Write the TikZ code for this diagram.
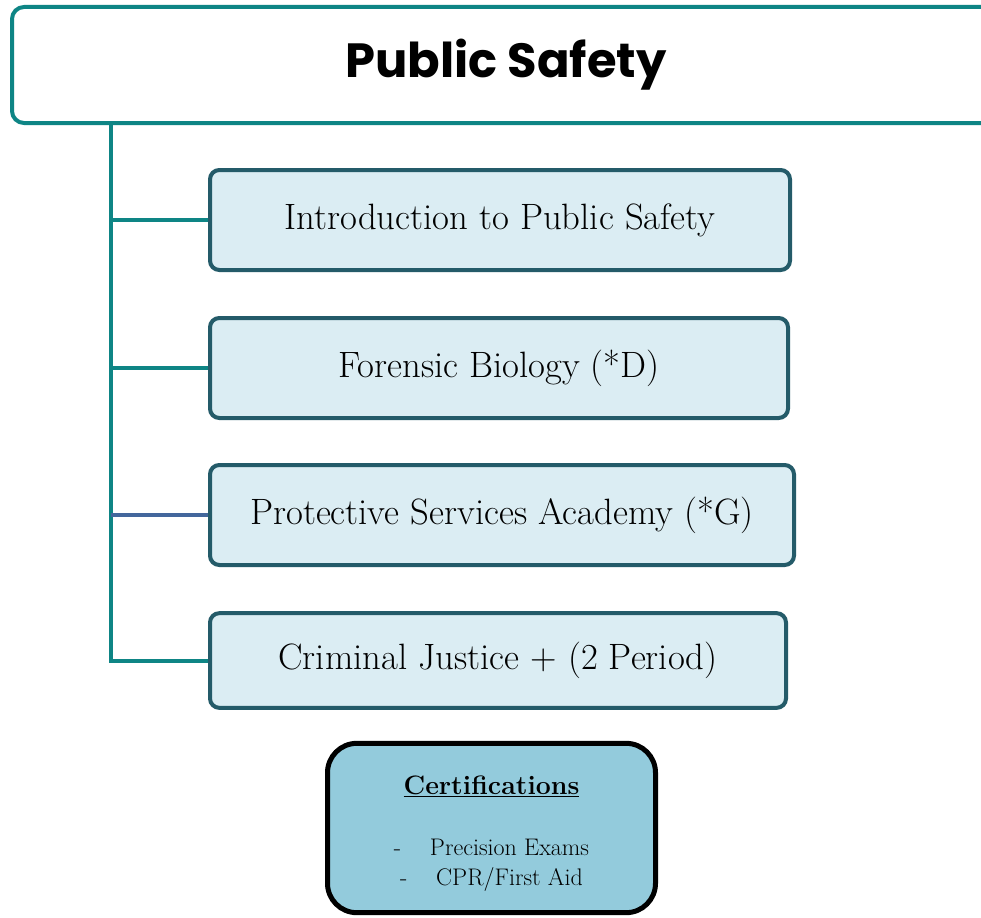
\documentclass[tikz,border=0pt]{standalone}
\usepackage{fontspec}
\usepackage{tikz}
\usepackage{xcolor}
\usetikzlibrary{positioning}
\newfontfamily\titlefont{Poppins}
\definecolor{tealline}{HTML}{0E8585}
\definecolor{boxline}{HTML}{245B69}
\definecolor{boxfill}{HTML}{DBEDF3}
\definecolor{certfill}{HTML}{93CBDC}
\definecolor{blueline}{HTML}{43679C}
\tikzset{headbox/.style={draw=tealline, line width=3pt, rounded corners=9pt, fill=white, minimum width=741pt, minimum height=87pt, inner sep=0pt, font=\titlefont\bfseries\fontsize{36}{42}\selectfont},
         crsbox/.style={draw=boxline, line width=3pt, rounded corners=7pt, fill=boxfill, minimum height=75pt, inner sep=0pt, font=\fontsize{27.5}{32}\selectfont},
         certbox/.style={draw=black, line width=3.75pt, rounded corners=22pt, fill=certfill, minimum width=246pt, minimum height=127pt, align=center, font=\fontsize{18}{22}\selectfont},
         link/.style={draw=tealline, line width=3pt}}

\begin{document}
\begin{tikzpicture}[x=0.75pt, y=-0.75pt]
    \clip (0, 0) rectangle (981, 917);
    \fill[white] (0, 0) rectangle (981, 917);

    \node[headbox] (title) at (506, 65) {Public Safety};

    \node[crsbox, minimum width=435pt] (intro) at (500, 220) {Introduction to Public Safety};
    \node[crsbox, minimum width=433.5pt] (forensic) at (499, 368) {Forensic Biology (*D)};
    \node[crsbox, minimum width=438pt] (academy) at (502, 515) {Protective Services Academy (*G)};
    \node[crsbox, minimum width=432pt, minimum height=71pt] (justice) at (498, 660.5) {Criminal Justice + (2 Period)};

    \node[certbox] (cert) at (491.5, 828) {\rule{0pt}{22pt}{\fontsize{20}{22}\selectfont\underline{\textbf{Certifications}}}\\[24pt]
        -\hspace{1.2em}Precision Exams\\
        -\hspace{1.2em}CPR/First Aid};

    % spine down from the title
    \coordinate (spine) at (111, 0);
    \draw[link] (spine |- title.south) |- (justice.west);
    \draw[link] (spine |- intro.west) -- (intro.west);
    \draw[link] (spine |- forensic.west) -- (forensic.west);
    \draw[link, draw=blueline] (spine |- academy.west) -- (academy.west);
\end{tikzpicture}
\end{document}
